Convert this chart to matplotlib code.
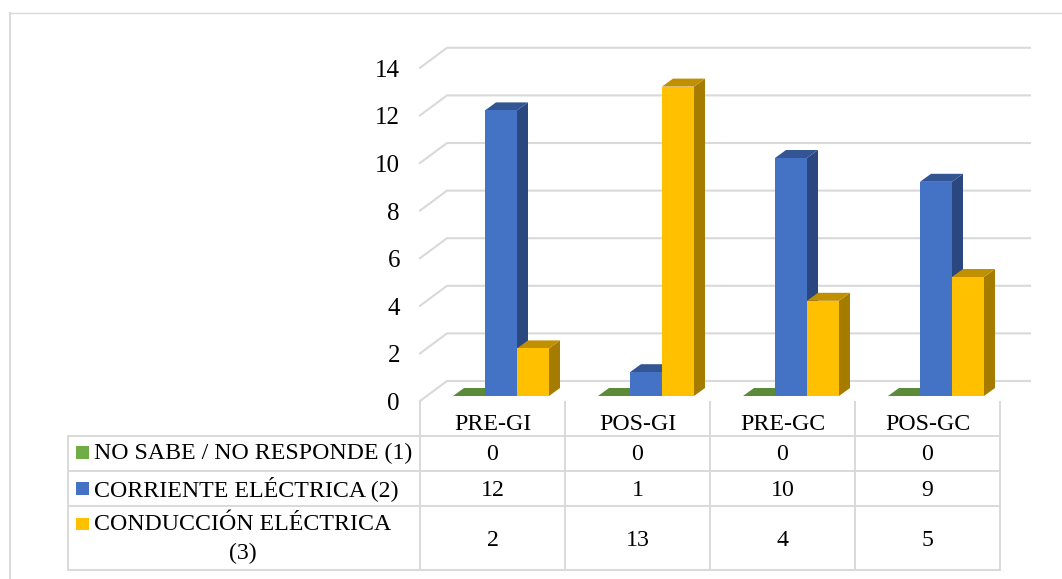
import matplotlib
matplotlib.use('Agg')
import matplotlib.pyplot as plt
from matplotlib.patches import Polygon, Rectangle

plt.rcParams['font.family'] = ['Liberation Serif', 'DejaVu Serif']

categories = ['PRE-GI', 'POS-GI', 'PRE-GC', 'POS-GC']
no_sabe = [0, 0, 0, 0]
corriente = [12, 1, 10, 9]
conduccion = [2, 13, 4, 5]
series_names = ['NO SABE / NO RESPONDE (1)', 'CORRIENTE ELÉCTRICA (2)', 'CONDUCCIÓN ELÉCTRICA\n(3)']
yticks = [0, 2, 4, 6, 8, 10, 12, 14]

W, H = 1062, 579
GRID = '#d9d9d9'
FS = 17.2
FS_Y = 18
# front, top, side shades
C_GREEN = ('#70ad47', '#5b8a38', '#43682b')
C_BLUE = ('#4472c4', '#335593', '#2a4780')
C_YELLOW = ('#ffc000', '#c09000', '#a67c00')

# pixel helpers, everything below the chart is laid out in image pixels
def fx(px):
    return px / W

def fy(py):
    return 1 - py / H

fig = plt.figure(figsize=(W / 100, H / 100), dpi=100, facecolor='white')

# background layer for frame, table, wall lines
bg = fig.add_axes([0, 0, 1, 1])
bg.set_xlim(0, W)
bg.set_ylim(H, 0)
bg.axis('off')

def line(ax, xs, ys, lw=1.4, color=GRID, **kw):
    ax.plot(xs, ys, color=color, lw=lw, solid_capstyle='projecting', **kw)

# outer frame
line(bg, [10, 1062], [12.5, 12.5], lw=1.0)
line(bg, [10, 10], [12.5, 579], lw=1.4)

# chart axes: x = category slots, y = values, front plane of the 3d box
PX_LEFT, PX_SLOT = 420, 145
PX_Y0, PX_UNIT = 396.0, 23.8
ax = fig.add_axes([fx(PX_LEFT), fy(PX_Y0), 4 * PX_SLOT / W, 14 * PX_UNIT / H])
ax.set_xlim(0, 4)
ax.set_ylim(0, 14)
ax.axis('off')
ax.patch.set_alpha(0)

dxu = 1.0 / PX_SLOT
dyu = 1.0 / PX_UNIT

# gridlines: slanted bit on the side wall, then along the back
for v in yticks:
    xs = [0, 27 * dxu, (1030 - PX_LEFT) / PX_SLOT]
    ys = [v - 5 * dyu, v + 15 * dyu, v + 15 * dyu]
    ax.plot(xs, ys, color=GRID, lw=1.5, clip_on=False, zorder=1)
    ax.text(-20 * dxu, v - 8 * dyu, str(v), ha='right', va='center', fontsize=FS_Y, color='black', clip_on=False)

def bar3d(ax, x0, w, v, colors):
    dx, dy = 11 * dxu, 8 * dyu
    ax.add_patch(Polygon([(x0 + w, 0), (x0 + w + dx, dy), (x0 + w + dx, v + dy), (x0 + w, v)], fc=colors[2], ec='none', zorder=3, clip_on=False))
    ax.add_patch(Polygon([(x0, v), (x0 + dx, v + dy), (x0 + w + dx, v + dy), (x0 + w, v)], fc=colors[1], ec='none', zorder=3, clip_on=False))
    ax.add_patch(Rectangle((x0, 0), w, v, fc=colors[0], ec='none', zorder=4, clip_on=False))

bar_w = 32 * dxu
start = 33 * dxu
for i in range(len(categories)):
    for j, (vals, cols) in enumerate([(no_sabe, C_GREEN), (corriente, C_BLUE), (conduccion, C_YELLOW)]):
        bar3d(ax, i + start + j * bar_w, bar_w, vals[i], cols)

# data table
rows_y = [436, 471, 506, 570]
col_x = [PX_LEFT + i * PX_SLOT for i in range(5)]
for y in rows_y:
    line(bg, [68, 1000], [y, y])
line(bg, [68, 68], [436, 570])
for k, x in enumerate(col_x):
    line(bg, [x, x], [402, 570])

for i, c in enumerate(categories):
    cx = col_x[i] + PX_SLOT / 2
    bg.text(cx, 424, c, ha='center', va='center', fontsize=FS)
    for vals, yc in zip([no_sabe, corriente, conduccion], [454.5, 490, 540]):
        bg.text(cx, yc, str(vals[i]), ha='center', va='center', fontsize=FS)

for name, col, yc in zip(series_names[:2], [C_GREEN[0], C_BLUE[0]], [453, 489]):
    bg.add_patch(Rectangle((76, yc - 7), 13, 13, fc=col, ec='none'))
    bg.text(94, yc, name, ha='left', va='center', fontsize=FS)
bg.add_patch(Rectangle((76, 518), 13, 12, fc=C_YELLOW[0], ec='none'))
first, second = series_names[2].split('\n')
bg.text(94, 524, first, ha='left', va='center', fontsize=FS)
bg.text(243, 553, second, ha='center', va='center', fontsize=FS)

fig.savefig('out.png', dpi=100, facecolor='white')
